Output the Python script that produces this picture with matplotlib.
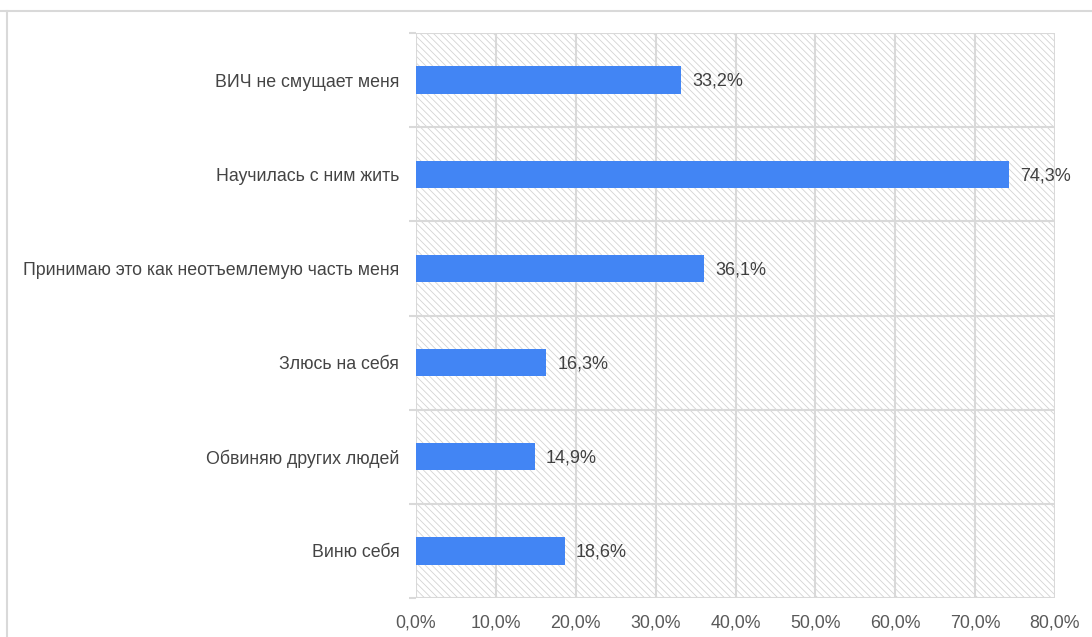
import matplotlib
matplotlib.use("Agg")
import matplotlib.pyplot as plt
from matplotlib.patches import Rectangle
from matplotlib.lines import Line2D
from matplotlib.ticker import FixedLocator

categories = [
    "ВИЧ не смущает меня",
    "Научилась с ним жить",
    "Принимаю это как неотъемлемую часть меня",
    "Злюсь на себя",
    "Обвиняю других людей",
    "Виню себя",
]
values = [33.2, 74.3, 36.1, 16.3, 14.9, 18.6]
xticks = [0, 10, 20, 30, 40, 50, 60, 70, 80]

plt.rcParams['font.family'] = ['Liberation Sans', 'DejaVu Sans']
plt.rcParams['hatch.linewidth'] = 0.6
plt.rcParams['hatch.color'] = '#d3d3d3'

fig = plt.figure(figsize=(10.92, 6.37), dpi=100)
ax = fig.add_axes([416/1092, 1-598/637, (1055-416)/1092, (598-33)/637])

n = len(categories)
ypos = list(range(n))
ax.set_ylim(n - 0.5, -0.5)
ax.set_xlim(0, 80)

grid_c = '#d9d9d9'
ax.add_patch(Rectangle((0, 0), 1, 1, transform=ax.transAxes, facecolor='white',
                       edgecolor='#d3d3d3', hatch='\\\\\\\\\\', linewidth=0, zorder=0))

for x in xticks:
    ax.axvline(x, color=grid_c, lw=1.5, zorder=1)
for b in range(n + 1):
    ax.axhline(b - 0.5, color=grid_c, lw=1.5, zorder=1)

ax.barh(ypos, values, height=0.29, color='#4285f4', zorder=3)
for y, v in zip(ypos, values):
    ax.annotate(f"{v:.1f}%".replace('.', ','), (v, y), xytext=(8, -1),
                textcoords='offset points', va='center', ha='left',
                fontsize=13, color='#404040')

for s in ax.spines.values():
    s.set_visible(False)

ax.set_yticks(ypos)
ax.set_yticklabels(categories, fontsize=12.8, color='#444444')
ax.yaxis.set_minor_locator(FixedLocator([b - 0.5 for b in range(n + 1)]))
ax.tick_params(axis='y', which='major', length=0, pad=12)
ax.tick_params(axis='y', which='minor', length=5, width=1.5, color=grid_c)

ax.set_xticks(xticks)
ax.set_xticklabels([f"{x:.1f}%".replace('.', ',') for x in xticks], fontsize=12.8, color='#595959')
ax.tick_params(axis='x', length=0, pad=12)

fig.add_artist(Line2D([0, 1], [1-11/637, 1-11/637], transform=fig.transFigure, color='#d9d9d9', lw=1.5))
fig.add_artist(Line2D([7/1092, 7/1092], [0, 1-11/637], transform=fig.transFigure, color='#d9d9d9', lw=1.5))

fig.savefig("out.png", dpi=100)
